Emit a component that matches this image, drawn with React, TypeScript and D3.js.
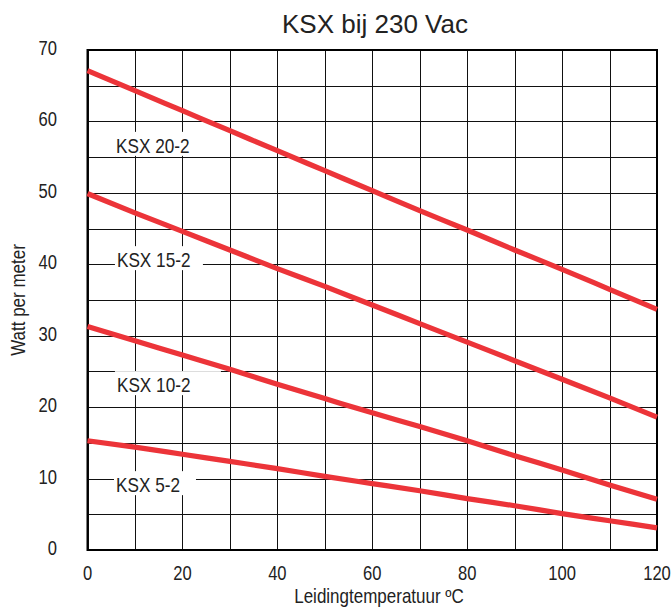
import * as d3 from 'd3';

// Data
const temps = [0, 10, 20, 30, 40, 50, 60, 70, 80, 90, 100, 110, 120];
const ksx20 = [67.1, 64.3, 61.5, 58.7, 55.9, 53.1, 50.3, 47.5, 44.8, 42.0, 39.3, 36.5, 33.7];
const ksx15 = [49.9, 47.2, 44.6, 42.0, 39.4, 36.9, 34.3, 31.7, 29.1, 26.5, 23.9, 21.3, 18.6];
const ksx10 = [31.3, 29.3, 27.3, 25.3, 23.2, 21.2, 19.2, 17.3, 15.3, 13.2, 11.2, 9.1, 7.1];
const ksx5 = [15.3, 14.4, 13.4, 12.4, 11.4, 10.3, 9.3, 8.3, 7.2, 6.2, 5.1, 4.1, 3.1];
const seriesNames = ['KSX 20-2', 'KSX 15-2', 'KSX 10-2', 'KSX 5-2'];
const seriesValues = [ksx20, ksx15, ksx10, ksx5];
// label anchors in data units (temperature, watt at baseline)
const labelTemps = [6, 6.2, 6.2, 6];
const labelWatts = [55.6, 39.6, 22.1, 8.1];
const xTicks = [0, 20, 40, 60, 80, 100, 120];
const yTicks = [0, 10, 20, 30, 40, 50, 60, 70];

const width = 671;
const height = 610;
const margin = { top: 50, right: 14, bottom: 60, left: 87.5 };
const labelBoxWidths = [78, 88, 106, 82];
const red = '#ec3439';
const font = "'Liberation Sans', Arial, Helvetica, sans-serif";

export default function App() {
    const x = d3.scaleLinear().domain([0, 120]).range([margin.left, width - margin.right]);
    const y = d3.scaleLinear().domain([0, 70]).range([height - margin.bottom, margin.top]);

    const line = d3.line<number>()
        .x((_, i) => x(temps[i]))
        .y(d => y(d))
        .curve(d3.curveMonotoneX);

    const vGrid = d3.range(0, 121, 10);
    const hGrid = d3.range(0, 71, 5);
    const px = (v: number) => Math.round(v) + 0.5;

    return (
        <svg width={width} height={height}
            style={{ position: 'absolute', left: 0, top: 0, background: '#fff' }}
            fontFamily={font}>
            {/* Grid */}
            <g stroke="#111" strokeWidth={1}>
                {vGrid.map(v => (
                    <line key={'v' + v} x1={px(x(v))} x2={px(x(v))} y1={y(0)} y2={y(70)} />
                ))}
                {hGrid.map(v => (
                    <line key={'h' + v} x1={x(0)} x2={x(120)} y1={px(y(v))} y2={px(y(v))} />
                ))}
            </g>

            {/* Label backgrounds */}
            {seriesNames.map((name, i) => (
                <rect key={'bg' + name}
                    x={x(labelTemps[i]) - 2}
                    y={y(labelWatts[i]) - 21}
                    width={labelBoxWidths[i]}
                    height={24}
                    fill="#fff" />
            ))}

            {/* Frame */}
            <rect x={x(0)} y={y(70)} width={x(120) - x(0)} height={y(0) - y(70)}
                fill="none" stroke="#000" strokeWidth={2} />

            {/* Curves */}
            {seriesValues.map((vals, i) => (
                <path key={seriesNames[i]} d={line(vals) ?? ''}
                    fill="none" stroke={red} strokeWidth={5.2} />
            ))}

            {/* Series labels */}
            {seriesNames.map((name, i) => (
                <text key={'lb' + name}
                    transform={`translate(${x(labelTemps[i])},${y(labelWatts[i])}) scale(0.86,1)`}
                    fontSize={20} fill="#222">{name}</text>
            ))}

            {/* Y ticks */}
            {yTicks.map(t => (
                <text key={'yt' + t}
                    transform={`translate(57,${y(t) + 5}) scale(0.85,1)`}
                    textAnchor="end" fontSize={19.5} fill="#222">{t}</text>
            ))}

            {/* X ticks */}
            {xTicks.map(t => (
                <text key={'xt' + t}
                    transform={`translate(${x(t)},580) scale(0.85,1)`}
                    textAnchor="middle" fontSize={19.5} fill="#222">{t}</text>
            ))}

            {/* Titles */}
            <text x={375} y={33} textAnchor="middle" fontSize={26} fill="#222">KSX bij 230 Vac</text>
            <text transform="translate(379,603) scale(0.85,1)" textAnchor="middle"
                fontSize={20} fill="#222">Leidingtemperatuur ºC</text>
            <text transform="translate(25,300) rotate(-90) scale(0.85,1)" textAnchor="middle"
                fontSize={20} fill="#222">Watt per meter</text>
        </svg>
    );
}
